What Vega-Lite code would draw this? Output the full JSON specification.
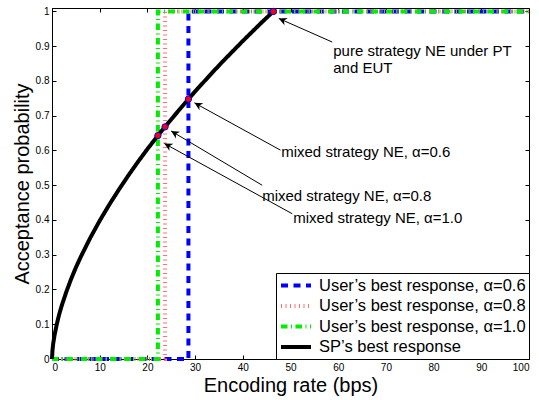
{
  "$schema": "https://vega.github.io/schema/vega-lite/v6.json",
  "width": 477,
  "height": 351,
  "autosize": "none",
  "padding": {"left": 52, "top": 8, "right": 10, "bottom": 41},
  "background": "white",
  "config": {
    "font": "Liberation Sans",
    "view": {"stroke": "black", "strokeWidth": 1},
    "axis": {
      "grid": false,
      "domainColor": "black",
      "tickColor": "black",
      "labelColor": "black",
      "titleColor": "black",
      "labelFont": "Liberation Sans",
      "labelFontSize": 10,
      "titleFont": "Liberation Sans",
      "titleFontWeight": "normal",
      "titleFontSize": 20,
      "tickSize": -4,
      "labelPadding": 7
    },
    "legend": {
      "labelFont": "Liberation Sans",
      "labelFontSize": 16.5,
      "labelColor": "black",
      "labelLimit": 400
    }
  },
  "datasets": {
    "lines": [
      {"s": "User’s best response, α=0.6", "x": 0, "y": 0, "o": 1},
      {"s": "User’s best response, α=0.6", "x": 28.6, "y": 0, "o": 2},
      {"s": "User’s best response, α=0.6", "x": 28.6, "y": 1, "o": 3},
      {"s": "User’s best response, α=0.6", "x": 100, "y": 1, "o": 4},
      {"s": "User’s best response, α=0.8", "x": 0, "y": 0, "o": 1},
      {"s": "User’s best response, α=0.8", "x": 23.7, "y": 0, "o": 2},
      {"s": "User’s best response, α=0.8", "x": 23.7, "y": 1, "o": 3},
      {"s": "User’s best response, α=0.8", "x": 100, "y": 1, "o": 4},
      {"s": "User’s best response, α=1.0", "x": 0, "y": 0, "o": 1},
      {"s": "User’s best response, α=1.0", "x": 22.2, "y": 0, "o": 2},
      {"s": "User’s best response, α=1.0", "x": 22.2, "y": 1, "o": 3},
      {"s": "User’s best response, α=1.0", "x": 100, "y": 1, "o": 4},
      {"s": "SP’s best response", "x": 0, "y": 0, "o": 1},
      {"s": "SP’s best response", "x": 0.1, "y": 0.025, "o": 2},
      {"s": "SP’s best response", "x": 0.25, "y": 0.044, "o": 3},
      {"s": "SP’s best response", "x": 0.5, "y": 0.066, "o": 4},
      {"s": "SP’s best response", "x": 1, "y": 0.1, "o": 5},
      {"s": "SP’s best response", "x": 1.5, "y": 0.128, "o": 6},
      {"s": "SP’s best response", "x": 2, "y": 0.152, "o": 7},
      {"s": "SP’s best response", "x": 3, "y": 0.193, "o": 8},
      {"s": "SP’s best response", "x": 4, "y": 0.23, "o": 9},
      {"s": "SP’s best response", "x": 5, "y": 0.263, "o": 10},
      {"s": "SP’s best response", "x": 6, "y": 0.293, "o": 11},
      {"s": "SP’s best response", "x": 8, "y": 0.348, "o": 12},
      {"s": "SP’s best response", "x": 10, "y": 0.398, "o": 13},
      {"s": "SP’s best response", "x": 12, "y": 0.444, "o": 14},
      {"s": "SP’s best response", "x": 14, "y": 0.487, "o": 15},
      {"s": "SP’s best response", "x": 16, "y": 0.528, "o": 16},
      {"s": "SP’s best response", "x": 18, "y": 0.567, "o": 17},
      {"s": "SP’s best response", "x": 20, "y": 0.604, "o": 18},
      {"s": "SP’s best response", "x": 22.2, "y": 0.643, "o": 19},
      {"s": "SP’s best response", "x": 24, "y": 0.673, "o": 20},
      {"s": "SP’s best response", "x": 26, "y": 0.706, "o": 21},
      {"s": "SP’s best response", "x": 28.6, "y": 0.748, "o": 22},
      {"s": "SP’s best response", "x": 30, "y": 0.77, "o": 23},
      {"s": "SP’s best response", "x": 32, "y": 0.8, "o": 24},
      {"s": "SP’s best response", "x": 34, "y": 0.83, "o": 25},
      {"s": "SP’s best response", "x": 36, "y": 0.859, "o": 26},
      {"s": "SP’s best response", "x": 38, "y": 0.887, "o": 27},
      {"s": "SP’s best response", "x": 40, "y": 0.915, "o": 28},
      {"s": "SP’s best response", "x": 42, "y": 0.942, "o": 29},
      {"s": "SP’s best response", "x": 44, "y": 0.969, "o": 30},
      {"s": "SP’s best response", "x": 46.4, "y": 1, "o": 31}
    ],
    "ne": [
      {"x": 22.2, "y": 0.643},
      {"x": 23.7, "y": 0.668},
      {"x": 28.6, "y": 0.748},
      {"x": 46.4, "y": 1}
    ],
    "arrows": [
      {"x": 58.75, "y": 0.912, "x2": 47.54, "y2": 0.98, "ang": 293.7},
      {"x": 47.9, "y": 0.601, "x2": 29.86, "y2": 0.737, "ang": 298.8},
      {"x": 44.06, "y": 0.5, "x2": 24.97, "y2": 0.656, "ang": 300.8},
      {"x": 50.36, "y": 0.418, "x2": 23.56, "y2": 0.62, "ang": 298.7}
    ],
    "notes": [
      {"t": "pure strategy NE under PT", "x": 58.96, "y": 0.886},
      {"t": "and EUT", "x": 58.96, "y": 0.837},
      {"t": "mixed strategy NE, α=0.6", "x": 48.05, "y": 0.596},
      {"t": "mixed strategy NE, α=0.8", "x": 44.06, "y": 0.468},
      {"t": "mixed strategy NE, α=1.0", "x": 50.57, "y": 0.407}
    ]
  },
  "resolve": {"axis": {"x": "independent", "y": "independent"}},
  "layer": [
    {
      "data": {"name": "lines"},
      "mark": {"type": "line", "strokeCap": "butt"},
      "encoding": {
        "x": {"field": "x", "type": "quantitative",
              "scale": {"domain": [0, 100], "nice": false, "zero": false},
              "axis": {"title": "Encoding rate (bps)", "values": [0,10,20,30,40,50,60,70,80,90,100], "titlePadding": 3}},
        "y": {"field": "y", "type": "quantitative",
              "scale": {"domain": [0, 1.01], "nice": false},
              "axis": {"title": "Acceptance probability", "values": [0,0.1,0.2,0.3,0.4,0.5,0.6,0.7,0.8,0.9,1], "format": ".1~f", "titlePadding": 3}},
        "order": {"field": "o", "type": "quantitative"},
        "color": {"field": "s", "type": "nominal",
                  "scale": {"domain": ["User’s best response, α=0.6", "User’s best response, α=0.8", "User’s best response, α=1.0", "SP’s best response"],
                            "range": ["#0000ff", "#ff7070", "#00ee00", "#000000"]},
                  "legend": {"title": null, "orient": "bottom-right", "offset": 0, "strokeColor": "black", "fillColor": "white",
                             "padding": 3, "symbolType": "M-1,0H3", "symbolSize": 225, "labelOffset": 21, "rowPadding": 2.5,
                             "labelFontSize": 16.5, "labelExpr": "datum.label + '\u00a0\u00a0\u00a0\u00a0\u00a0'"}},
        "strokeDash": {"field": "s", "type": "nominal",
                       "scale": {"domain": ["User’s best response, α=0.6", "User’s best response, α=0.8", "User’s best response, α=1.0", "SP’s best response"],
                                 "range": [[7, 5.5], [1, 3.5], [6.5, 3.5, 1, 3.5], [1, 0]]}},
        "strokeWidth": {"field": "s", "type": "nominal",
                        "scale": {"domain": ["User’s best response, α=0.6", "User’s best response, α=0.8", "User’s best response, α=1.0", "SP’s best response"],
                                  "range": [4, 4, 4, 4]}}
      }
    },
    {
      "data": {"name": "arrows"},
      "mark": {"type": "rule", "color": "black", "strokeWidth": 1},
      "encoding": {
        "x": {"field": "x", "type": "quantitative", "axis": null},
        "y": {"field": "y", "type": "quantitative", "axis": null},
        "x2": {"field": "x2"},
        "y2": {"field": "y2"}
      }
    },
    {
      "data": {"name": "arrows"},
      "mark": {"type": "point", "shape": "M0,0 L0.5,1 L0,0.7 L-0.5,1 Z", "filled": true, "color": "black", "opacity": 1, "size": 256},
      "encoding": {
        "x": {"field": "x2", "type": "quantitative", "axis": null},
        "y": {"field": "y2", "type": "quantitative", "axis": null},
        "angle": {"field": "ang", "type": "quantitative", "scale": null}
      }
    },
    {
      "data": {"name": "ne"},
      "mark": {"type": "point", "shape": "circle", "filled": true, "fill": "#ff0000", "stroke": "#0000ff", "strokeWidth": 1, "opacity": 1, "size": 40},
      "encoding": {
        "x": {"field": "x", "type": "quantitative",
              "axis": {"orient": "top", "labels": false, "domain": false, "title": null, "values": [0,10,20,30,40,50,60,70,80,90,100]}},
        "y": {"field": "y", "type": "quantitative",
              "axis": {"orient": "right", "labels": false, "domain": false, "title": null, "values": [0,0.1,0.2,0.3,0.4,0.5,0.6,0.7,0.8,0.9,1]}}
      }
    },
    {
      "data": {"name": "notes"},
      "mark": {"type": "text", "align": "left", "baseline": "middle", "fontSize": 15, "font": "Liberation Sans", "color": "black"},
      "encoding": {
        "x": {"field": "x", "type": "quantitative", "axis": null},
        "y": {"field": "y", "type": "quantitative", "axis": null},
        "text": {"field": "t"}
      }
    }
  ]
}
